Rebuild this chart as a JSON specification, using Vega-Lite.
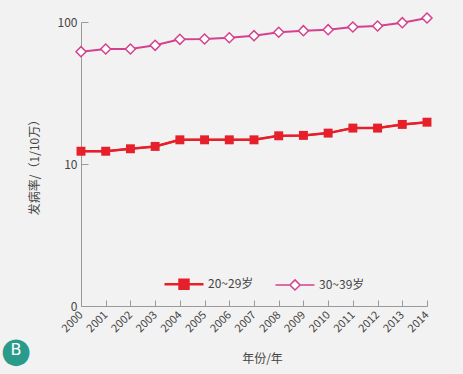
{
  "$schema": "https://vega.github.io/schema/vega-lite/v6.json",
  "width": 346,
  "height": 284,
  "autosize": "none",
  "padding": {"left": 81, "top": 22, "right": 36, "bottom": 68},
  "background": "#f2f2f2",
  "config": {
    "view": {"stroke": null},
    "font": "Noto Sans CJK SC",
    "axis": {"domainColor": "#9a9a9a", "tickColor": "#9a9a9a", "grid": false, "labelColor": "#444444", "titleColor": "#444444", "labelFont": "Noto Sans CJK SC", "titleFont": "Noto Sans CJK SC", "titleFontWeight": "normal"}
  },
  "title": {"text": "●", "subtitle": "B", "orient": "bottom", "anchor": "start", "frame": "group", "align": "center", "color": "#2a9a8a", "subtitleColor": "#ffffff", "fontSize": 35, "subtitleFontSize": 16, "subtitlePadding": -27, "font": "DejaVu Sans", "subtitleFont": "DejaVu Sans", "offset": -31, "dx": -65, "fontWeight": "normal"},
  "data": {"values": [
    {"year": 2000, "group": "20~29岁", "rate": 12.3},
    {"year": 2001, "group": "20~29岁", "rate": 12.3},
    {"year": 2002, "group": "20~29岁", "rate": 12.8},
    {"year": 2003, "group": "20~29岁", "rate": 13.3},
    {"year": 2004, "group": "20~29岁", "rate": 14.8},
    {"year": 2005, "group": "20~29岁", "rate": 14.8},
    {"year": 2006, "group": "20~29岁", "rate": 14.8},
    {"year": 2007, "group": "20~29岁", "rate": 14.8},
    {"year": 2008, "group": "20~29岁", "rate": 15.8},
    {"year": 2009, "group": "20~29岁", "rate": 15.9},
    {"year": 2010, "group": "20~29岁", "rate": 16.5},
    {"year": 2011, "group": "20~29岁", "rate": 17.9},
    {"year": 2012, "group": "20~29岁", "rate": 17.9},
    {"year": 2013, "group": "20~29岁", "rate": 19.0},
    {"year": 2014, "group": "20~29岁", "rate": 19.7},
    {"year": 2000, "group": "30~39岁", "rate": 61.8},
    {"year": 2001, "group": "30~39岁", "rate": 64.5},
    {"year": 2002, "group": "30~39岁", "rate": 64.5},
    {"year": 2003, "group": "30~39岁", "rate": 68.5},
    {"year": 2004, "group": "30~39岁", "rate": 75.5},
    {"year": 2005, "group": "30~39岁", "rate": 75.9},
    {"year": 2006, "group": "30~39岁", "rate": 77.5},
    {"year": 2007, "group": "30~39岁", "rate": 80.1},
    {"year": 2008, "group": "30~39岁", "rate": 84.6},
    {"year": 2009, "group": "30~39岁", "rate": 86.9},
    {"year": 2010, "group": "30~39岁", "rate": 88.3},
    {"year": 2011, "group": "30~39岁", "rate": 92.2},
    {"year": 2012, "group": "30~39岁", "rate": 93.7},
    {"year": 2013, "group": "30~39岁", "rate": 98.9},
    {"year": 2014, "group": "30~39岁", "rate": 106.7}
  ]},
  "encoding": {
    "x": {"field": "year", "type": "quantitative", "scale": {"domain": [2000, 2014], "nice": false, "zero": false},
      "axis": {"values": [2000,2001,2002,2003,2004,2005,2006,2007,2008,2009,2010,2011,2012,2013,2014], "format": "d", "labelAngle": -45, "labelAlign": "right", "labelBaseline": "middle", "labelOverlap": false, "tickSize": -6, "labelPadding": 13, "labelFontSize": 11, "title": "年份/年", "titleFontSize": 12, "titlePadding": 20, "titleX": 181}},
    "y": {"field": "rate", "type": "quantitative", "scale": {"type": "log", "domain": [1, 100], "nice": false},
      "axis": {"values": [1, 10, 100], "labelExpr": "datum.value == 1 ? '0' : datum.label", "format": "d", "tickSize": -7, "labelPadding": 11, "labelFontSize": 12, "title": "发病率/（1/10万）", "titleFontSize": 12, "titlePadding": 16}}
  },
  "layer": [
    {
      "mark": {"type": "line", "strokeWidth": 2},
      "encoding": {
        "color": {"field": "group", "type": "nominal", "scale": {"domain": ["20~29岁", "30~39岁"], "range": ["#e5202a", "#d4418e"]},
          "legend": {"orient": "none", "legendX": 97, "legendY": 256, "direction": "horizontal", "title": null, "symbolSize": 1521, "labelFontSize": 12, "labelColor": "#444444", "labelOffset": 18, "columnPadding": 18,
            "encode": {"symbols": {"update": {
              "shape": {"signal": "datum.value == '20~29岁' ? 'M-1,0H1M-0.23,-0.23H0.23V0.23H-0.23Z' : 'M-1,0H-0.26M0.26,0H1M0,-0.26L0.26,0L0,0.26L-0.26,0Z'"},
              "strokeWidth": {"signal": "datum.value == '20~29岁' ? 2.5 : 1.5"},
              "stroke": {"signal": "datum.value == '20~29岁' ? '#e5202a' : '#d4418e'"},
              "fill": {"signal": "datum.value == '20~29岁' ? '#e5202a' : '#ffffff'"},
              "size": {"value": 1521},
              "opacity": {"value": 1}}}}}}
      }
    },
    {
      "transform": [{"filter": "datum.group == '20~29岁'"}],
      "mark": {"type": "line", "color": "#e5202a", "strokeWidth": 2.5},
      "encoding": {}
    },
    {
      "transform": [{"filter": "datum.group == '20~29岁'"}],
      "mark": {"type": "point", "shape": "square", "filled": true, "color": "#e5202a", "opacity": 1, "size": 80},
      "encoding": {}
    },
    {
      "transform": [{"filter": "datum.group == '30~39岁'"}],
      "mark": {"type": "point", "shape": "diamond", "filled": true, "fill": "#ffffff", "stroke": "#d4418e", "strokeWidth": 1.5, "opacity": 1, "size": 100},
      "encoding": {}
    }
  ]
}
